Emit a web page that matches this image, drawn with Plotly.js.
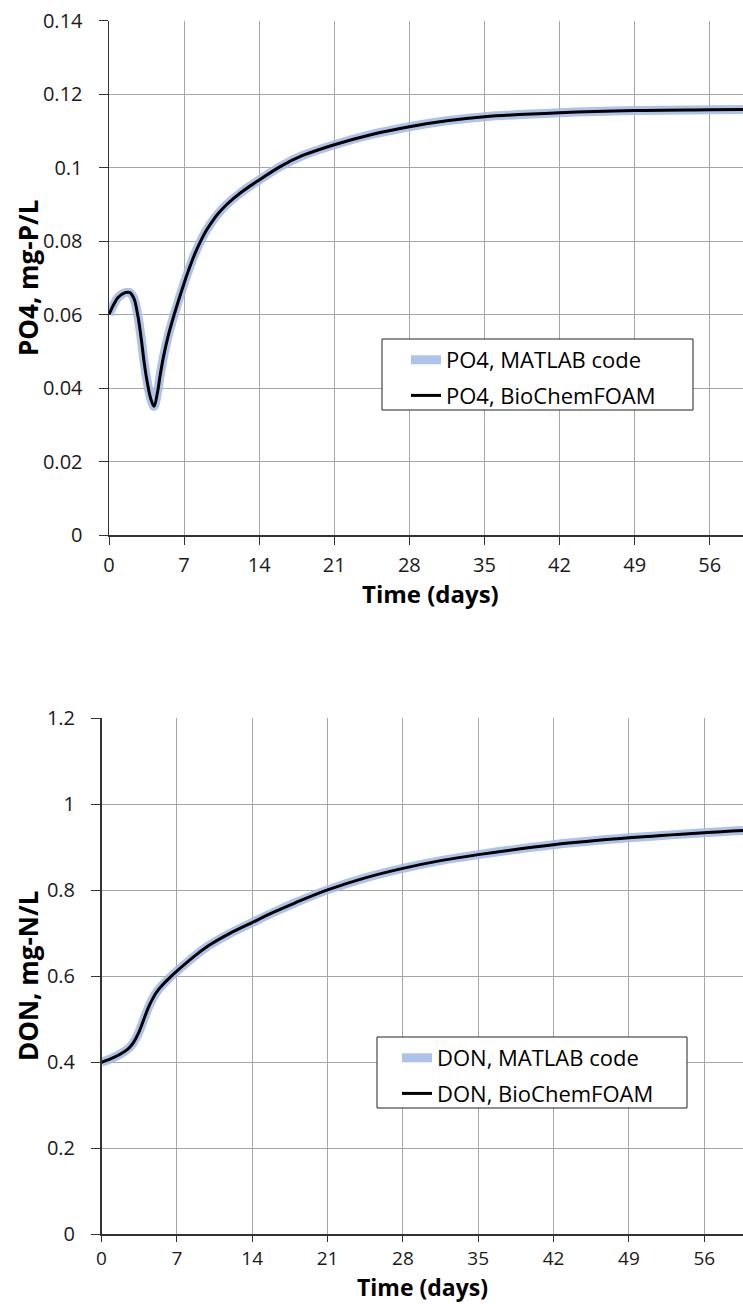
<!DOCTYPE html>
<html>
<head>
<meta charset="utf-8">
<script src="https://cdn.plot.ly/plotly-3.0.1.min.js"></script>
<style>html,body{margin:0;padding:0;background:#fff;}#chart{width:743px;height:1304px;}</style>
</head>
<body>
<div id="chart"></div>
<script>
// ---- Data ----
var po4Time = [0,0.4,0.8,1.3,1.9,2.3,2.7,3.0,3.3,3.6,3.9,4.2,4.5,4.8,5.1,5.5,6.1,7,7.5,8,8.5,9,9.5,10.1,11,12.3,14,16,18,21,24.5,28,31.5,35,42,49,56,59.1];
var po4Matlab = [0.0600,0.0625,0.0645,0.0657,0.0660,0.0645,0.0595,0.0535,0.0465,0.0410,0.0370,0.0350,0.0385,0.0440,0.0488,0.0540,0.0602,0.0685,0.0727,0.0765,0.0797,0.0825,0.0848,0.0872,0.0900,0.0932,0.0966,0.1003,0.1032,0.1062,0.1090,0.1111,0.1127,0.1138,0.1149,0.1155,0.1157,0.1158];
var po4Foam = [0.0600,0.0625,0.0645,0.0657,0.0660,0.0645,0.0595,0.0535,0.0465,0.0410,0.0370,0.0350,0.0385,0.0440,0.0488,0.0540,0.0602,0.0685,0.0727,0.0765,0.0797,0.0825,0.0848,0.0872,0.0900,0.0932,0.0966,0.1003,0.1032,0.1062,0.1090,0.1111,0.1127,0.1138,0.1149,0.1155,0.1157,0.1158];

var donTime = [0,1.2,2.0,2.5,2.95,3.42,3.89,4.35,4.82,5.2,5.6,6.22,7,8.7,10,11.8,14,16,18,21,24.5,28,31.5,35,42,49,56,59.6];
var donMatlab = [0.400,0.412,0.423,0.432,0.445,0.467,0.497,0.527,0.551,0.566,0.578,0.594,0.612,0.648,0.672,0.698,0.725,0.749,0.771,0.801,0.829,0.851,0.869,0.883,0.906,0.922,0.934,0.939];
var donFoam = [0.400,0.412,0.423,0.432,0.445,0.467,0.497,0.527,0.551,0.566,0.578,0.594,0.612,0.648,0.672,0.698,0.725,0.749,0.771,0.801,0.829,0.851,0.869,0.883,0.906,0.922,0.934,0.939];

var xTicks = [0,7,14,21,28,35,42,49,56];
var po4TickVals = [0,0.02,0.04,0.06,0.08,0.1,0.12,0.14];
var po4TickText = ['0','0.02','0.04','0.06','0.08','0.1','0.12','0.14'];
var donTickVals = [0,0.2,0.4,0.6,0.8,1,1.2];
var donTickText = ['0','0.2','0.4','0.6','0.8','1','1.2'];

var W = 743, H = 1304;
var FONT = '"Open Sans", Lato, sans-serif';
var blue = 'rgba(160,185,230,0.85)';

var traces = [
  {x: po4Time, y: po4Matlab, xaxis:'x', yaxis:'y', mode:'lines', name:'PO4, MATLAB code',
   line:{color:blue, width:9, shape:'spline', smoothing:1}, legend:'legend', legendgroup:'a'},
  {x: po4Time, y: po4Foam, xaxis:'x', yaxis:'y', mode:'lines', name:'PO4, BioChemFOAM',
   line:{color:'#000', width:3, shape:'spline', smoothing:1}, legend:'legend', legendgroup:'b'},
  {x: donTime, y: donMatlab, xaxis:'x2', yaxis:'y2', mode:'lines', name:'DON, MATLAB code',
   line:{color:blue, width:9, shape:'spline', smoothing:1}, legend:'legend2', legendgroup:'c'},
  {x: donTime, y: donFoam, xaxis:'x2', yaxis:'y2', mode:'lines', name:'DON, BioChemFOAM',
   line:{color:'#000', width:3, shape:'spline', smoothing:1}, legend:'legend2', legendgroup:'d'}
];

function xa(left, rangeMax, anchor, tlen, standoff, fsize){
  return {domain:[left/W, 1], range:[0, rangeMax], anchor:anchor,
    tickvals:xTicks, ticktext:xTicks.map(String), ticks:'outside', ticklen:tlen, tickcolor:'#333',
    ticklabelstandoff:standoff,
    showgrid:true, gridcolor:'#a6a6a6', gridwidth:1, zeroline:false,
    showline:true, linecolor:'#333', linewidth:1.5,
    tickfont:{family:FONT, size:fsize, color:'#1a1a1a'}, fixedrange:true};
}
function ya(top, bottom, range, vals, text, anchor){
  return {domain:[1-bottom/H, 1-top/H], range:range, anchor:anchor,
    tickvals:vals, ticktext:text, ticks:'outside', ticklen:9, tickcolor:'#333',
    ticklabelstandoff:12,
    showgrid:true, gridcolor:'#a6a6a6', gridwidth:1, zeroline:false,
    showline:true, linecolor:'#333', linewidth:1.5,
    tickfont:{family:FONT, size:20, color:'#1a1a1a'}, fixedrange:true};
}

var legendBase = {xanchor:'left', yanchor:'top', bgcolor:'rgba(0,0,0,0)', borderwidth:0,
  font:{family:FONT, size:22, color:'#000'}, traceorder:'grouped', tracegroupgap:4, itemwidth:30};

function box(x0, x1, y0, y1){
  return {type:'rect', xref:'paper', yref:'paper', x0:x0/W, x1:x1/W, y0:1-y1/H, y1:1-y0/H,
    fillcolor:'#fff', line:{color:'#222', width:1}, layer:'above'};
}

var layout = {
  width:W, height:H, margin:{l:0,r:0,t:0,b:0},
  paper_bgcolor:'#fff', plot_bgcolor:'#fff',
  showlegend:true,
  xaxis: xa(109, 59.1, 'y', 8, 3, 20),
  yaxis: ya(20.5, 535, [0,0.14], po4TickVals, po4TickText, 'x'),
  xaxis2: xa(101.5, 59.6, 'y2', 6, 0, 19),
  yaxis2: ya(718.3, 1234.3, [0,1.2], donTickVals, donTickText, 'x2'),
  legend: Object.assign({}, legendBase, {x:406/W, y:1-339/H}),
  legend2: Object.assign({}, legendBase, {x:397/W, y:1-1037/H}),
  shapes:[box(382, 693, 339, 410), box(377, 687, 1037, 1108)],
  annotations:[
    {text:'<b>Time (days)</b>', xref:'paper', yref:'paper', x:430/W, y:1-593/H, showarrow:false,
     xanchor:'center', yanchor:'middle', font:{family:FONT, size:24, color:'#000'}},
    {text:'<b>PO4, mg-P/L</b>', xref:'paper', yref:'paper', x:28/W, y:1-278/H, showarrow:false, textangle:-90,
     xanchor:'center', yanchor:'middle', font:{family:FONT, size:26, color:'#000'}},
    {text:'<b>Time (days)</b>', xref:'paper', yref:'paper', x:422/W, y:0, showarrow:false, borderpad:0,
     xanchor:'center', yanchor:'bottom', font:{family:FONT, size:23, color:'#000'}},
    {text:'<b>DON, mg-N/L</b>', xref:'paper', yref:'paper', x:28/W, y:1-976/H, showarrow:false, textangle:-90,
     xanchor:'center', yanchor:'middle', font:{family:FONT, size:26, color:'#000'}}
  ]
};

Plotly.newPlot('chart', traces, layout, {displayModeBar:false, staticPlot:true});
</script>
</body>
</html>
